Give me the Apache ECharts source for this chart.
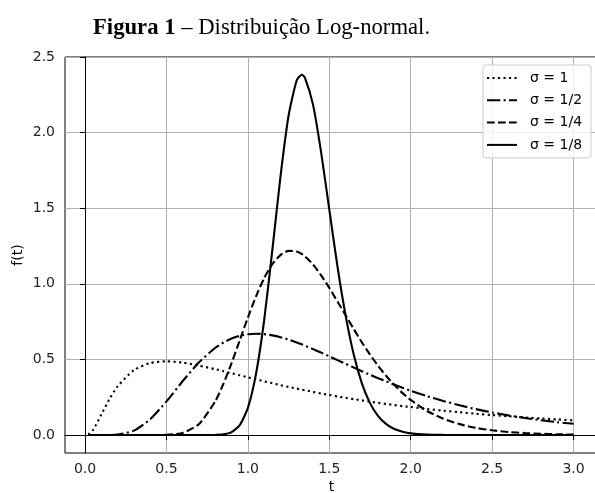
<!DOCTYPE html>
<html lang="pt">
<head>
    <meta charset="UTF-8">
    <title>Distribuição Log-normal</title>
    <script type="text/javascript" src="https://cdn.jsdelivr.net/npm/echarts@6/dist/echarts.min.js"></script>
    <style type="text/css">
        html, body { margin: 0; padding: 0; background: #fff; }
        #chart { width: 595px; height: 493px; }
    </style>
</head>
<body>
<div id="chart"></div>
<script type="text/javascript">
    // valores
    var tVals = [0.02, 0.05, 0.1, 0.15, 0.2, 0.3, 0.4, 0.5, 0.6, 0.7, 0.8, 0.85, 0.9, 0.95, 1.0, 1.05, 1.1, 1.15, 1.2, 1.25, 1.3, 1.33,
        1.35, 1.4, 1.45, 1.5, 1.55, 1.6, 1.65, 1.7, 1.75, 1.8, 1.85, 1.9, 1.95, 2.0, 2.1, 2.2, 2.3, 2.4, 2.5, 2.6, 2.7, 2.8, 2.9, 3.0];
    var sigma1 = [0.003, 0.035, 0.135, 0.238, 0.322, 0.429, 0.476, 0.487, 0.479, 0.459, 0.435, 0.422, 0.408, 0.395, 0.381, 0.368, 0.355, 0.343, 0.330, 0.318, 0.307, 0.300,
        0.296, 0.285, 0.274, 0.265, 0.255, 0.246, 0.237, 0.229, 0.220, 0.213, 0.205, 0.198, 0.191, 0.185, 0.172, 0.161, 0.151, 0.141, 0.132, 0.124, 0.116, 0.109, 0.103, 0.097];
    var sigma2 = [0, 0, 0, 0.0003, 0.003, 0.029, 0.104, 0.222, 0.357, 0.481, 0.577, 0.612, 0.638, 0.656, 0.666, 0.670, 0.667, 0.659, 0.647, 0.631, 0.612, 0.600,
        0.591, 0.568, 0.545, 0.520, 0.495, 0.471, 0.446, 0.422, 0.398, 0.376, 0.354, 0.332, 0.312, 0.293, 0.257, 0.225, 0.197, 0.171, 0.149, 0.130, 0.113, 0.098, 0.085, 0.074];
    var sigma4 = [0, 0, 0, 0, 0, 0, 0, 0.001, 0.014, 0.072, 0.223, 0.339, 0.476, 0.626, 0.777, 0.917, 1.038, 1.130, 1.190, 1.218, 1.214, 1.198,
        1.182, 1.128, 1.056, 0.973, 0.883, 0.792, 0.701, 0.613, 0.532, 0.457, 0.390, 0.330, 0.277, 0.232, 0.159, 0.108, 0.072, 0.047, 0.031, 0.020, 0.013, 0.008, 0.005, 0.003];
    var sigma8 = [0, 0, 0, 0, 0, 0, 0, 0, 0, 0, 0.001, 0.004, 0.019, 0.065, 0.179, 0.404, 0.759, 1.221, 1.707, 2.113, 2.346, 2.383,
        2.364, 2.185, 1.868, 1.490, 1.116, 0.791, 0.532, 0.342, 0.211, 0.125, 0.072, 0.040, 0.022, 0.011, 0.003, 0.001, 0, 0, 0, 0, 0, 0, 0, 0];
    var seriesNames = ['σ = 1', 'σ = 1/2', 'σ = 1/4', 'σ = 1/8'];
    var xTicks = [0, 0.5, 1.0, 1.5, 2.0, 2.5, 3.0];
    var yTicks = [0, 0.5, 1.0, 1.5, 2.0, 2.5];

    var dashes = [[2.1, 3.4], [13.3, 3.3, 2.1, 3.3], [7.7, 3.3], 'solid'];
    var allValues = [sigma1, sigma2, sigma4, sigma8];

    function pares(ys) {
        var out = [];
        for (var i = 0; i < tVals.length; i++) {
            out.push([tVals[i], ys[i]]);
        }
        return out;
    }

    var series = [];
    for (var k = 0; k < allValues.length; k++) {
        series.push({
            name: seriesNames[k],
            type: 'line',
            data: pares(allValues[k]),
            showSymbol: false,
            symbol: 'none',
            smooth: 0.2,
            animation: false,
            lineStyle: {color: '#000', width: 2.1, type: dashes[k], cap: 'butt'},
            itemStyle: {color: '#000'}
        });
    }

    var chart = echarts.init(document.getElementById('chart'));
    var tickFont = {fontFamily: 'DejaVu Sans', fontSize: 14, color: '#222'};

    chart.setOption({
        animation: false,
        title: {
            text: '{b|Figura 1}{r| – Distribuição Log-normal.}',
            left: 88,
            top: 12,
            textStyle: {
                fontFamily: 'Liberation Serif',
                fontSize: 22.7,
                fontWeight: 'normal',
                color: '#000',
                rich: {
                    b: {fontFamily: 'Liberation Serif', fontSize: 22.7, fontWeight: 'bold', color: '#000'},
                    r: {fontFamily: 'Liberation Serif', fontSize: 22.7, fontWeight: 'normal', color: '#000'}
                }
            }
        },
        grid: {
            left: 65, top: 57, right: -3, bottom: 40,
            containLabel: false,
            outerBoundsMode: 'none',
            show: true, borderColor: '#000', borderWidth: 1
        },
        legend: {
            orient: 'vertical',
            left: 483,
            top: 65,
            itemWidth: 30,
            itemHeight: 14,
            itemGap: 8.3,
            padding: [6, 9, 6, 3],
            backgroundColor: 'rgba(255,255,255,0.8)',
            borderColor: '#ccc',
            borderWidth: 1,
            borderRadius: 3,
            itemStyle: {color: 'transparent', borderWidth: 0, opacity: 0},
            textStyle: {fontFamily: 'DejaVu Sans', fontSize: 14, color: '#000', padding: [0, 0, 0, 8]},
            data: seriesNames
        },
        xAxis: {
            type: 'value',
            min: -0.123,
            max: 3.15,
            name: 't',
            nameLocation: 'middle',
            nameGap: 27,
            nameMoveOverlap: false,
            nameTextStyle: {fontFamily: 'DejaVu Sans', fontSize: 14, color: '#000'},
            axisLine: {show: true, lineStyle: {color: '#000', width: 1}},
            axisTick: {show: true, customValues: xTicks, length: 5, lineStyle: {color: '#000'}},
            axisLabel: Object.assign({customValues: xTicks, margin: 9, formatter: function (v) { return v.toFixed(1); }}, tickFont),
            splitLine: {show: true, lineStyle: {color: '#b0b0b0', width: 1}}
        },
        yAxis: {
            type: 'value',
            min: -0.119,
            max: 2.5,
            name: 'f(t)',
            nameLocation: 'middle',
            nameGap: 40,
            nameRotate: 90,
            nameMoveOverlap: false,
            nameTextStyle: {fontFamily: 'DejaVu Sans', fontSize: 14, color: '#000'},
            axisLine: {show: true, lineStyle: {color: '#000', width: 1}},
            axisTick: {show: true, customValues: yTicks, length: 5, lineStyle: {color: '#000'}},
            axisLabel: Object.assign({customValues: yTicks, margin: 10, formatter: function (v) { return v.toFixed(1); }}, tickFont),
            splitLine: {show: true, lineStyle: {color: '#b0b0b0', width: 1}}
        },
        series: series
    });
</script>
</body>
</html>
